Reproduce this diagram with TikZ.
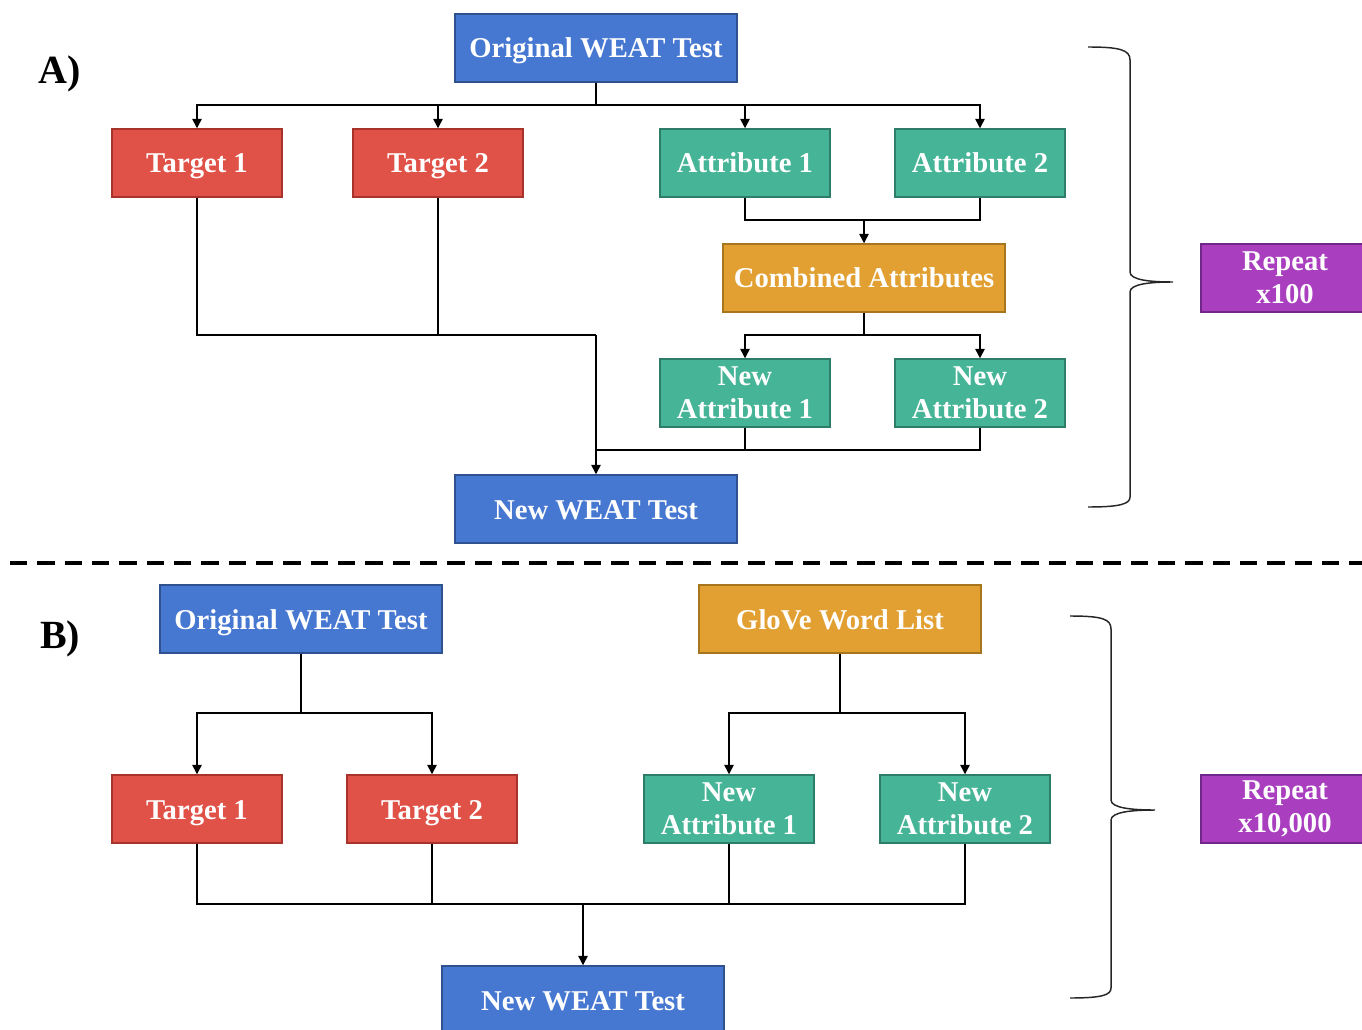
\documentclass[tikz,border=0pt]{standalone}
\usepackage{fontspec}
\setmainfont{Liberation Serif}[BoldFont={Liberation Serif Bold}]
\usetikzlibrary{arrows.meta}
\definecolor{cblue}{HTML}{4677D1}\definecolor{bblue}{HTML}{2F528F}
\definecolor{cred}{HTML}{E05147}\definecolor{bred}{HTML}{A8332B}
\definecolor{cgreen}{HTML}{46B497}\definecolor{bgreen}{HTML}{2E7D68}
\definecolor{corange}{HTML}{E2A032}\definecolor{borange}{HTML}{A8751F}
\definecolor{cpurple}{HTML}{A93EBF}\definecolor{bpurple}{HTML}{71268A}
\tikzset{
  box/.style={draw, line width=1.1pt, text=white, inner sep=0pt, align=center,
    font=\bfseries\fontsize{21.5}{25}\selectfont, minimum height=51pt},
  one/.style={text height=15pt, text depth=0pt},
  wide/.style={box, minimum width=211.5pt},
  small/.style={box, minimum width=127.5pt},
  bluebox/.style={fill=cblue, draw=bblue},
  redbox/.style={fill=cred, draw=bred},
  greenbox/.style={fill=cgreen, draw=bgreen},
  orangebox/.style={fill=corange, draw=borange},
  purplebox/.style={fill=cpurple, draw=bpurple},
  conn/.style={line width=1.1pt, black},
  arr/.style={conn, -{Triangle[length=7pt,width=7pt]}},
  brace/.style={line width=1.1pt, black!85},
  lab/.style={font=\bfseries\fontsize{30}{34}\selectfont}
}
\begin{document}
\begin{tikzpicture}[x=0.75pt, y=-0.75pt]
\useasboundingbox (0,0) rectangle (1362,1030);
% ---------- Part A ----------
\node[lab] (labA) at (60,74) {A)};
\node[wide, bluebox, one] (origA) at (596,48) {Original WEAT Test};
\node[small, redbox, one] (t1A) at (197,163) {Target 1};
\node[small, redbox, one] (t2A) at (438,163) {Target 2};
\node[small, greenbox, one] (a1A) at (745,163) {Attribute 1};
\node[small, greenbox, one] (a2A) at (980,163) {Attribute 2};
\node[wide, orangebox, one] (combA) at (864,278) {Combined Attributes};
\node[small, greenbox] (na1A) at (745,393) {New\\Attribute 1};
\node[small, greenbox] (na2A) at (980,393) {New\\Attribute 2};
\node[wide, bluebox, one] (newA) at (596,509) {New WEAT Test};
\node[small, purplebox, minimum width=126pt] (repA) at (1285,278) {Repeat\\x100};
\coordinate (jA) at (596,105);
\coordinate (jB) at (864,220);
\coordinate (jC) at (864,335);
\coordinate (jD) at (596,335);
\coordinate (jE) at (596,450);
\draw[conn] (origA.south) -- (jA);
\draw[arr] (jA) -| (t1A.north);
\draw[arr] (jA) -| (t2A.north);
\draw[arr] (jA) -| (a1A.north);
\draw[arr] (jA) -| (a2A.north);
\draw[conn] (a1A.south) |- (jB) -| (a2A.south);
\draw[arr] (jB) -- (combA.north);
\draw[conn] (combA.south) -- (jC);
\draw[arr] (jC) -| (na1A.north);
\draw[arr] (jC) -| (na2A.north);
\draw[conn] (t1A.south) |- (jD);
\draw[conn] (t2A.south) -- (t2A.south |- jD);
\draw[arr] (jD) -- (newA.north);
\draw[conn] (na1A.south) |- (jE);
\draw[conn] (na2A.south) |- (jE);
\draw[brace] (1088,47) .. controls (1120,47) and (1130,50) .. (1130,60) -- (1130,272)
  .. controls (1130,280) and (1150,282) .. (1173,282)
  .. controls (1150,282) and (1130,284) .. (1130,292) -- (1130,497)
  .. controls (1130,504) and (1120,507) .. (1088,507);
% ---------- divider ----------
\draw[line width=2.4pt, dash pattern=on 13pt off 7.5pt] (10,563) -- (1362,563);
% ---------- Part B ----------
\node[lab] (labB) at (60,639) {B)};
\node[wide, bluebox, one] (origB) at (301,619) {Original WEAT Test};
\node[wide, orangebox, one] (gloveB) at (840,619) {GloVe Word List};
\node[small, redbox, one] (t1B) at (197,809) {Target 1};
\node[small, redbox, one] (t2B) at (432,809) {Target 2};
\node[small, greenbox] (na1B) at (729,809) {New\\Attribute 1};
\node[small, greenbox] (na2B) at (965,809) {New\\Attribute 2};
\node[wide, bluebox, one] (newB) at (583,1000) {New WEAT Test};
\node[small, purplebox, minimum width=126pt] (repB) at (1285,809) {Repeat\\x10,000};
\coordinate (kA) at (301,713);
\coordinate (kB) at (840,713);
\coordinate (kC) at (583,904);
\draw[conn] (origB.south) -- (kA);
\draw[arr] (kA) -| (t1B.north);
\draw[arr] (kA) -| (t2B.north);
\draw[conn] (gloveB.south) -- (kB);
\draw[arr] (kB) -| (na1B.north);
\draw[arr] (kB) -| (na2B.north);
\draw[conn] (t1B.south) |- (kC);
\draw[conn] (na2B.south) |- (kC);
\draw[conn] (t2B.south) -- (t2B.south |- kC);
\draw[conn] (na1B.south) -- (na1B.south |- kC);
\draw[arr] (kC) -- (newB.north);
\draw[brace] (1070,616) .. controls (1102,616) and (1111,619) .. (1111,629) -- (1111,800)
  .. controls (1111,808) and (1132,810) .. (1155,810)
  .. controls (1132,810) and (1111,812) .. (1111,820) -- (1111,988)
  .. controls (1111,995) and (1102,998) .. (1070,998);
\end{tikzpicture}
\end{document}
